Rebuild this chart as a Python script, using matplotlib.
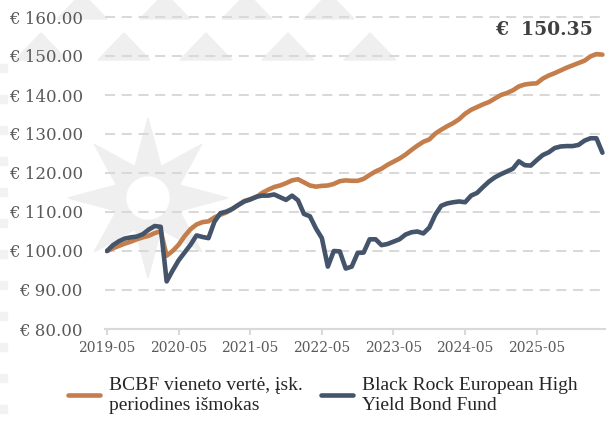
import matplotlib
matplotlib.use("Agg")
import matplotlib.pyplot as plt
import matplotlib.transforms as mtransforms
from matplotlib.patches import Polygon, Circle, Rectangle
import numpy as np

# mėnesiniai duomenys nuo 2019-05
months = np.arange(84)
tick_pos = [0, 12, 24, 36, 48, 60, 72]
tick_labels = ["2019-05", "2020-05", "2021-05", "2022-05", "2023-05", "2024-05", "2025-05"]

bcbf = [100.0, 100.7, 101.3, 101.9, 102.4, 103.0, 103.5, 103.9, 104.6, 105.1,
        98.8, 100.0, 101.6, 103.8, 105.6, 106.8, 107.4, 107.6, 108.6, 109.3,
        109.9, 110.8, 111.8, 112.8, 113.3, 113.8, 114.9, 115.7, 116.4, 116.8,
        117.4, 118.1, 118.4, 117.6, 116.8, 116.5, 116.7, 116.8, 117.2, 117.9,
        118.1, 118.0, 118.0, 118.5, 119.5, 120.4, 121.1, 122.1, 122.9, 123.7,
        124.7, 125.9, 127.0, 128.0, 128.6, 130.1, 131.1, 132.0, 132.8, 133.8,
        135.2, 136.2, 136.9, 137.6, 138.2, 139.1, 140.0, 140.5, 141.2, 142.2,
        142.7, 142.9, 143.0, 144.2, 145.0, 145.6, 146.3, 147.0, 147.6, 148.2,
        148.8, 149.9, 150.5, 150.35]

blackrock = [100.0, 101.5, 102.5, 103.2, 103.5, 103.7, 104.3, 105.5, 106.4, 106.2,
             92.2, 95.0, 97.6, 99.6, 101.6, 104.0, 103.6, 103.3, 107.5, 109.7,
             110.1, 110.8, 111.8, 112.7, 113.2, 113.9, 114.2, 114.2, 114.5, 113.8,
             113.1, 114.2, 113.0, 109.5, 108.9, 105.8, 103.3, 96.0, 100.0, 99.9,
             95.5, 96.0, 99.5, 99.6, 103.0, 103.0, 101.5, 101.8, 102.4, 103.0,
             104.2, 104.8, 105.0, 104.5, 106.0, 109.3, 111.6, 112.2, 112.5, 112.7,
             112.5, 114.2, 114.9, 116.4, 117.8, 118.9, 119.7, 120.4, 121.1, 123.0,
             122.0, 121.9, 123.3, 124.6, 125.3, 126.4, 126.8, 126.9, 126.9, 127.2,
             128.3, 128.9, 128.9, 125.2]

labels = ["BCBF vieneto vertė, įsk.\nperiodines išmokas",
          "Black Rock European High\nYield Bond Fund"]
colors = ["#C47E4B", "#44546A"]

W, H = 606, 424
fig = plt.figure(figsize=(W / 100, H / 100), dpi=100)
plt.rcParams["font.family"] = ["Liberation Serif", "DejaVu Serif"]
num_font = ["DejaVu Serif"]

# fono vandenženklis (pikseliai nuo viršaus kairės)
px = mtransforms.Affine2D().scale(1 / W, -1 / H).translate(0, 1) + fig.transFigure
wm = "#EFEFEF"
cx, cy = 148, 198
pts = []
for k in range(16):
    ang = np.pi / 2 - k * np.pi / 8
    if k % 2 == 0:
        r = 80 if k % 4 == 0 else 76
    else:
        r = 34
    pts.append((cx + r * np.cos(ang), cy - r * np.sin(ang)))
fig.patches.append(Polygon(pts, closed=True, color=wm, transform=px, zorder=-2))
fig.patches.append(Circle((cx, cy), 21, color="white", transform=px, zorder=-1))
for c in [82, 165, 247, 329]:
    fig.patches.append(Polygon([(c - 25, 19), (c + 25, 19), (c, -7)], color=wm, transform=px, zorder=-2))
for c in [41, 124, 206, 288, 370]:
    fig.patches.append(Polygon([(c - 26, 60), (c + 26, 60), (c, 33)], color=wm, transform=px, zorder=-2))
for y in range(68, 424, 31):
    fig.patches.append(Rectangle((0, y - 4), 7, 8, color="#F2F2F2", transform=px, zorder=-2))

ax = fig.add_axes([105 / W, 1 - 329 / H, 501 / W, 312 / H])
ax.patch.set_alpha(0)

ax.plot(months, bcbf, color=colors[0], lw=3.3, solid_joinstyle="round",
        solid_capstyle="round", label=labels[0], zorder=3)
ax.plot(months, blackrock, color=colors[1], lw=3.3, solid_joinstyle="round",
        solid_capstyle="round", label=labels[1], zorder=4)

ax.set_xlim(-0.33, 83.6)
ax.set_ylim(80, 160)
ax.set_yticks(np.arange(80, 161, 10))
ax.set_yticklabels([f"€ {v:.2f}" for v in np.arange(80, 161, 10)], family=num_font)
ax.set_xticks(tick_pos)
ax.set_xticklabels(tick_labels, family=num_font)

ax.yaxis.grid(True, color="#D9D9D9", lw=1.45, linestyle=(0, (5, 3.3)))
for gl in ax.get_ygridlines():
    gl.set_clip_on(False)
ax.set_axisbelow(True)

for s in ["top", "right", "left"]:
    ax.spines[s].set_visible(False)
ax.spines["bottom"].set_color("#D9D9D9")
ax.spines["bottom"].set_linewidth(1.5)
ax.spines["bottom"].set_zorder(5)

ax.tick_params(axis="y", length=0, pad=16, labelsize=12, labelcolor="#595959")
ax.tick_params(axis="x", length=4, width=1.5, color="#D9D9D9", pad=5,
               labelsize=10, labelcolor="#595959")

ax.legend(loc="upper left", bbox_to_anchor=(68 / W, 1 - 377 / H),
          bbox_transform=fig.transFigure, ncol=2, frameon=False, fontsize=14,
          borderpad=0, borderaxespad=0, handlelength=1.65, handletextpad=0.45,
          columnspacing=0.95, labelspacing=0.2, labelcolor="#262626")

fig.text(593 / W, 1 - 30 / H, f"€  {bcbf[-1]:.2f}", ha="right", va="center",
         fontsize=13.5, fontweight="bold", color="#3F3F3F", family=num_font)

plt.savefig("out.png", dpi=100)
plt.close()
